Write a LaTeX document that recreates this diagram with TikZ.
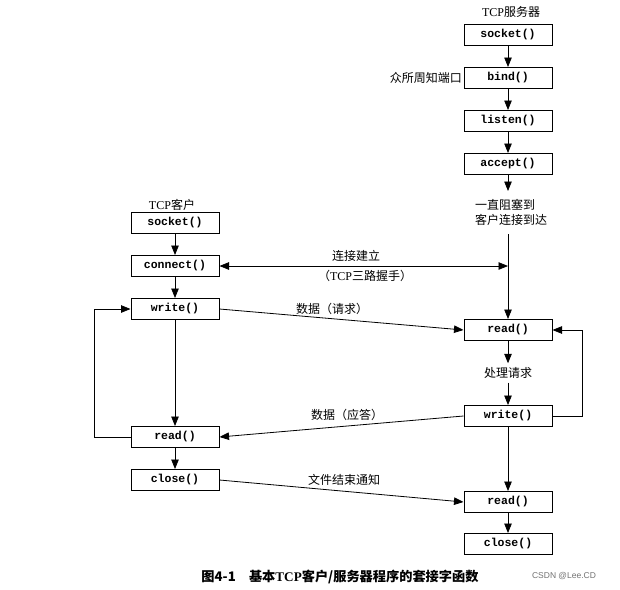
\documentclass[tikz,border=0pt]{standalone}
\usepackage{fontspec}
\setmainfont{Liberation Serif}
\setmonofont{Liberation Mono}
\newfontfamily\cjk{Noto Sans CJK SC}
\newfontfamily\wm{Liberation Sans}
\usetikzlibrary{arrows.meta}
\begin{document}
\begin{tikzpicture}[x=1pt,y=-1pt,
  fn/.style={draw, line width=1pt, minimum width=88pt, minimum height=21pt, inner sep=0pt, font=\ttfamily\bfseries\fontsize{11.5}{12}\selectfont},
  lbl/.style={font=\cjk\fontsize{12}{15}\selectfont, inner sep=1pt},
  arr/.style={-{Triangle[length=9.5pt,width=7.5pt]}, line width=0.8pt},
  arrboth/.style={{Triangle[length=9.5pt,width=7.5pt]}-{Triangle[length=9.5pt,width=7.5pt]}, line width=0.8pt},
  ]
\useasboundingbox[fill=white] (0,0) rectangle (620,589);

% server column
\node[lbl, font=\fontsize{12}{15}\selectfont] (stitle) at (511,12) {TCP{\cjk 服务器}};
\node[fn] (ssock) at (508,35) {socket()};
\node[fn] (sbind) at (508,78) {bind()};
\node[lbl, anchor=east] (sport) at (463,78) {众所周知端口};
\node[fn] (slisten) at (508,121) {listen()};
\node[fn] (saccept) at (508,164) {accept()};
\coordinate (sblk) at (508,191);
\node[lbl, align=left] (sblock) at (511,212) {一直阻塞到\\客户连接到达};
\coordinate (sline) at (508,234);
\coordinate (sjoin) at (508,266);
\node[fn] (sread) at (508,330) {read()};
\node[lbl, inner sep=4pt] (sproc) at (508,373) {处理请求};
\node[fn] (swrite) at (508,416) {write()};
\node[fn] (sread2) at (508,502) {read()};
\node[fn] (sclose) at (508,544) {close()};

% client column
\node[lbl, font=\fontsize{12}{15}\selectfont] (ctitle) at (172,205) {TCP{\cjk 客户}};
\node[fn] (csock) at (175,223) {socket()};
\node[fn] (cconn) at (175,266) {connect()};
\node[fn] (cwrite) at (175,309) {write()};
\node[fn] (cread) at (175,437) {read()};
\node[fn] (cclose) at (175,480) {close()};

% server arrows
\draw[arr] (ssock) -- (sbind);
\draw[arr] (sbind) -- (slisten);
\draw[arr] (slisten) -- (saccept);
\draw[arr] (saccept) -- (sblk);
\draw[arr] (sline) -- (sread);
\draw[arr] (sread) -- (sproc);
\draw[arr] (sproc) -- (swrite);
\draw[arr] (swrite) -- (sread2);
\draw[arr] (sread2) -- (sclose);
\draw[arr] (swrite.east) -- ++(30,0) |- (sread.east);

% client arrows
\draw[arr] (csock) -- (cconn);
\draw[arr] (cconn) -- (cwrite);
\draw[arr] (cwrite) -- (cread);
\draw[arr] (cread) -- (cclose);
\draw[arr] (cread.west) -- ++(-36,0) |- (cwrite.west);

% cross arrows
\draw[arrboth] (cconn.east) -- (sjoin);
\node[lbl] (lconn) at (356,256) {连接建立};
\node[lbl] (lhand) at (365,276) {（\fontspec{Liberation Serif}TCP\cjk 三路握手）};
\draw[arr] (cwrite.east) -- (sread.west);
\node[lbl] (lreq) at (332,309) {数据（请求）};
\draw[arr] (swrite.west) -- (cread.east);
\node[lbl] (lresp) at (347,415) {数据（应答）};
\draw[arr] (cclose.east) -- (sread2.west);
\node[lbl] (leof) at (344,480) {文件结束通知};

% caption
\node[font=\cjk\bfseries\fontsize{13.2}{15}\selectfont, inner sep=0pt] (cap) at (340,577) {图4-1\quad 基本{\fontspec{Liberation Serif}\bfseries TCP}客户/服务器程序的套接字函数};
\node[font=\wm\fontsize{8.5}{10}\selectfont, text=black!55, inner sep=0pt] (wmk) at (564,576) {CSDN @Lee.CD};
\end{tikzpicture}
\end{document}
